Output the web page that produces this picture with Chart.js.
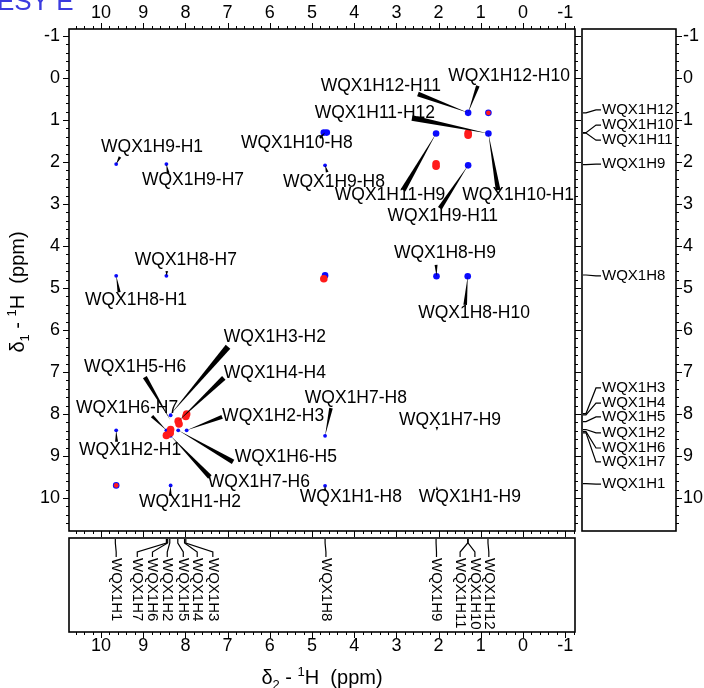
<!DOCTYPE html>
<html>
<head>
<meta charset="utf-8">
<script src="https://cdn.jsdelivr.net/npm/chart.js@4.4.0/dist/chart.umd.min.js"></script>
<style>
body { margin: 0; background: #fff; }
#wrap { width: 704px; height: 688px; position: relative; }
</style>
</head>
<body>
<div id="wrap"><canvas id="noesy"></canvas></div>
<script>
// tick labels (ppm) shared by both axes
var tickLabels = [-1, 0, 1, 2, 3, 4, 5, 6, 7, 8, 9, 10];

// resonance assignments, used by the 1D strips
var protons = ['WQX1H1', 'WQX1H2', 'WQX1H3', 'WQX1H4', 'WQX1H5', 'WQX1H6',
               'WQX1H7', 'WQX1H8', 'WQX1H9', 'WQX1H10', 'WQX1H11', 'WQX1H12'];
var shifts = [9.66, 8.37, 7.99, 8.02, 8.18, 8.42, 8.45, 4.69, 2.06, 1.30, 1.31, 0.83];
// where each strip label sits (ppm along the strip)
var stripLabelX = [9.64, 8.43, 7.35, 7.72, 8.05, 8.78, 9.14, 4.67, 2.05, 1.14, 1.49, 0.81];
var stripLabelY = [9.67, 8.45, 7.38, 7.74, 8.07, 8.81, 9.14, 4.71, 2.05, 1.12, 1.48, 0.76];

// cross peaks (delta2, delta1)
var blueX = [1.30, 0.82, 2.06, 1.30, 0.82, 4.72, 4.65, 1.30, 2.05, 1.31, 4.69, 9.64];
var blueY = [0.83, 0.83, 1.32, 1.32, 1.32, 1.30, 1.30, 2.08, 4.72, 4.72, 4.70, 9.70];
var weakX = [4.69, 9.64, 8.45, 9.64, 8.45, 9.64, 8.35, 8.45, 8.35, 8.45, 8.17, 7.97, 4.69, 4.69, 8.35, 8.35];
var weakY = [2.08, 2.05, 2.05, 4.71, 4.71, 8.39, 8.03, 8.39, 8.52, 8.52, 8.39, 8.39, 8.52, 9.71, 9.70, 8.39];
var redX = [1.30, 1.30, 2.06, 2.06, 4.72, 7.97, 7.99, 8.17, 8.15, 8.35, 8.36, 8.45];
var redY = [1.31, 1.36, 2.04, 2.10, 4.78, 8.00, 8.06, 8.17, 8.24, 8.37, 8.45, 8.51];
var redSmallX = [0.82, 9.64];
var redSmallY = [0.83, 9.70];

// peak labels: text centre, leader start, leader tip (all ppm)
var labelText = ['WQX1H12-H11', 'WQX1H12-H10', 'WQX1H11-H12', 'WQX1H10-H8', 'WQX1H9-H8',
  'WQX1H11-H9', 'WQX1H10-H12', 'WQX1H9-H11', 'WQX1H9-H1', 'WQX1H9-H7', 'WQX1H8-H7',
  'WQX1H8-H1', 'WQX1H8-H9', 'WQX1H8-H10', 'WQX1H3-H2', 'WQX1H4-H4', 'WQX1H2-H3',
  'WQX1H6-H5', 'WQX1H7-H6', 'WQX1H5-H6', 'WQX1H6-H7', 'WQX1H2-H1', 'WQX1H1-H2',
  'WQX1H7-H8', 'WQX1H7-H9', 'WQX1H1-H8', 'WQX1H1-H9'];
var labelX = [3.37, 0.33, 3.51, 5.36, 4.48, 3.15, 0.00, 1.90, 8.79, 7.82, 7.99, 9.17, 1.85, 1.16,
  5.88, 5.88, 5.92, 5.62, 6.26, 9.19, 9.38, 9.31, 7.89, 3.96, 1.73, 4.08, 1.26];
var labelY = [0.19, -0.05, 0.83, 1.55, 2.48, 2.79, 2.79, 3.29, 1.64, 2.43, 4.33, 5.29, 4.17, 5.60,
  6.17, 7.02, 8.05, 9.02, 9.62, 6.88, 7.86, 8.85, 10.10, 7.62, 8.14, 9.98, 9.98];
var leadX = [2.49, 1.07, 2.63, 4.81, 4.64, 2.84, 0.59, 1.97, 9.55, 8.41, 8.44, 9.57, 2.06, 1.37,
  6.99, 7.09, 7.13, 6.87, 7.42, 8.96, 8.79, 9.63, 8.36, 4.55, 2.04, 4.69, 2.04];
var leadY = [0.38, 0.19, 0.95, 1.43, 2.24, 2.67, 2.67, 3.10, 1.88, 2.26, 4.60, 5.10, 4.45, 5.40,
  6.40, 7.14, 8.07, 9.14, 9.50, 7.12, 8.05, 8.66, 9.95, 7.86, 8.31, 9.83, 9.81];
var tipX = [1.30, 1.30, 0.82, 4.69, 4.69, 2.06, 0.82, 1.30, 9.64, 8.45, 8.45, 9.64, 2.05, 1.31,
  8.36, 8.17, 7.97, 8.17, 8.35, 8.36, 8.45, 9.64, 8.35, 4.69, 2.04, 4.69, 2.04];
var tipY = [0.83, 0.83, 1.32, 1.30, 2.08, 1.32, 1.32, 2.08, 2.05, 2.05, 4.71, 4.71, 4.72, 4.72,
  8.02, 8.17, 8.39, 8.39, 8.52, 8.14, 8.39, 8.39, 9.70, 8.52, 8.40, 9.71, 9.72];

var FONT = "'Liberation Sans', Arial, Helvetica, sans-serif";
var BLUE = '#0a0aff';
var RED = '#ff1a1a';

function pts(xs, ys) {
  return xs.map(function(x, i) { return { x: x, y: ys[i] }; });
}

function tickList(min, max) {
  var out = [];
  for (var i = -10; i <= 60; i++) {
    var v = Math.round(i * 2) / 10;
    if (v >= min - 1e-6 && v <= max + 1e-6) out.push(v);
  }
  return out;
}

function isMajor(v) { return Math.abs(v - Math.round(v)) < 1e-6; }

function wedge(ctx, x0, y0, x1, y1) {
  var dx = x1 - x0, dy = y1 - y0, len = Math.hypot(dx, dy) || 1;
  var w = Math.min(6, 2.5 + len * 0.04);
  var nx = -dy / len * w / 2, ny = dx / len * w / 2;
  ctx.beginPath();
  ctx.moveTo(x0 + nx, y0 + ny);
  ctx.lineTo(x0 - nx, y0 - ny);
  ctx.lineTo(x1, y1);
  ctx.closePath();
  ctx.fill();
}

function richText(ctx, parts, cx, cy, angle) {
  ctx.save();
  ctx.translate(cx, cy);
  ctx.rotate(angle);
  var w = 0;
  parts.forEach(function(p) { ctx.font = p[1] + 'px ' + FONT; w += ctx.measureText(p[0]).width; });
  var x = -w / 2;
  ctx.textAlign = 'left';
  ctx.textBaseline = 'alphabetic';
  parts.forEach(function(p) {
    ctx.font = p[1] + 'px ' + FONT;
    ctx.fillText(p[0], x, 7 + p[2]);
    x += ctx.measureText(p[0]).width;
  });
  ctx.restore();
}

var peakLabels = {
  id: 'peakLabels',
  afterDatasetsDraw: function(chart) {
    var ctx = chart.ctx, a = chart.chartArea;
    var xs = chart.scales.x, ys = chart.scales.y;
    ctx.save();
    ctx.beginPath();
    ctx.rect(a.left, a.top, a.right - a.left, a.bottom - a.top);
    ctx.clip();
    ctx.fillStyle = '#000';
    for (var i = 0; i < labelText.length; i++) {
      wedge(ctx, xs.getPixelForValue(leadX[i]), ys.getPixelForValue(leadY[i]),
            xs.getPixelForValue(tipX[i]), ys.getPixelForValue(tipY[i]));
    }
    ctx.font = '17.5px ' + FONT;
    ctx.textAlign = 'center';
    ctx.textBaseline = 'middle';
    for (var j = 0; j < labelText.length; j++) {
      ctx.fillText(labelText[j], xs.getPixelForValue(labelX[j]), ys.getPixelForValue(labelY[j]));
    }
    ctx.restore();
  },
  afterDraw: function(chart) {
    var ctx = chart.ctx, a = chart.chartArea;
    var xs = chart.scales.x, ys = chart.scales.y;
    var sl = a.right + 7, sr = a.right + 101;     // right strip
    var st = a.bottom + 7, sb = a.bottom + 101;   // bottom strip
    ctx.save();
    ctx.strokeStyle = '#000';
    ctx.fillStyle = '#000';

    // frames
    ctx.lineWidth = 1.6;
    ctx.strokeRect(a.left, a.top, a.right - a.left, a.bottom - a.top);
    ctx.strokeRect(sl, a.top, sr - sl, a.bottom - a.top);
    ctx.strokeRect(a.left, st, a.right - a.left, sb - st);

    // ticks
    ctx.lineWidth = 1;
    ctx.beginPath();
    tickList(xs.min, xs.max).forEach(function(v) {
      var X = Math.round(xs.getPixelForValue(v)) + 0.5, len = isMajor(v) ? 6 : 3;
      ctx.moveTo(X, a.top); ctx.lineTo(X, a.top - len);
      ctx.moveTo(X, a.bottom); ctx.lineTo(X, a.bottom + len);
      ctx.moveTo(X, sb); ctx.lineTo(X, sb + len);
    });
    tickList(ys.min, ys.max).forEach(function(v) {
      var Y = Math.round(ys.getPixelForValue(v)) + 0.5, len = isMajor(v) ? 6 : 3;
      ctx.moveTo(a.left, Y); ctx.lineTo(a.left - len, Y);
      ctx.moveTo(a.right, Y); ctx.lineTo(a.right + len, Y);
      ctx.moveTo(sr, Y); ctx.lineTo(sr + len, Y);
    });
    ctx.stroke();

    // tick labels
    ctx.font = '18px ' + FONT;
    ctx.textBaseline = 'middle';
    tickLabels.forEach(function(v) {
      var X = xs.getPixelForValue(v), Y = ys.getPixelForValue(v);
      ctx.textAlign = 'center';
      ctx.fillText(String(v), X, a.top - 16);
      ctx.fillText(String(v), X, sb + 14);
      ctx.textAlign = 'right';
      ctx.fillText(String(v), a.left - 9, Y);
      ctx.textAlign = 'left';
      ctx.fillText(String(v), sr + 7, Y);
    });

    // 1D strips with assignment labels
    ctx.lineWidth = 1.2;
    ctx.font = '15px ' + FONT;
    for (var i = 0; i < protons.length; i++) {
      var yp = ys.getPixelForValue(shifts[i]), yl = ys.getPixelForValue(stripLabelY[i]);
      ctx.beginPath();
      ctx.moveTo(sl + 1, yp); ctx.lineTo(sl + 4, yp);
      ctx.lineTo(sl + 14, yl); ctx.lineTo(sl + 19, yl);
      ctx.stroke();
      ctx.textAlign = 'left';
      ctx.textBaseline = 'middle';
      ctx.fillText(protons[i], sl + 20, yl);

      var xp = xs.getPixelForValue(shifts[i]), xl = xs.getPixelForValue(stripLabelX[i]);
      ctx.beginPath();
      ctx.moveTo(xp, st + 1); ctx.lineTo(xp, st + 5);
      ctx.lineTo(xl, st + 14); ctx.lineTo(xl, st + 19);
      ctx.stroke();
      ctx.save();
      ctx.translate(xl, st + 20);
      ctx.rotate(Math.PI / 2);
      ctx.fillText(protons[i], 0, 0);
      ctx.restore();
    }

    // axis titles
    richText(ctx, [['\u03b4', 20, 0], ['2', 13, 5], [' - ', 20, 0], ['1', 13, -8], ['H  (ppm)', 20, 0]],
             (a.left + a.right) / 2, 677, 0);
    richText(ctx, [['\u03b4', 20, 0], ['1', 13, 5], [' - ', 20, 0], ['1', 13, -8], ['H  (ppm)', 20, 0]],
             17, 292, -Math.PI / 2);

    // clipped title at the top edge
    ctx.fillStyle = '#3b3bdf';
    ctx.font = '26px ' + FONT;
    ctx.textAlign = 'left';
    ctx.textBaseline = 'alphabetic';
    ctx.fillText('ESY E', -3, 10);
    ctx.restore();
  }
};

var ctx = document.getElementById('noesy').getContext('2d');
var noesyChart = new Chart(ctx, {
  type: 'scatter',
  data: {
    datasets: [
      { data: pts(redX, redY), backgroundColor: RED, pointRadius: 3.8, borderWidth: 0, order: 0 },
      { data: pts(redSmallX, redSmallY), backgroundColor: RED, pointRadius: 2.4, borderWidth: 0, order: 1 },
      { data: pts(blueX, blueY), backgroundColor: BLUE, pointRadius: 3.3, borderWidth: 0, order: 2 },
      { data: pts(weakX, weakY), backgroundColor: BLUE, pointRadius: 1.9, borderWidth: 0, order: 3 }
    ]
  },
  options: {
    responsive: true,
    maintainAspectRatio: false,
    devicePixelRatio: 1,
    animation: false,
    layout: { padding: { left: 69, top: 29, right: 129, bottom: 157 } },
    plugins: { legend: { display: false }, tooltip: { enabled: false } },
    elements: { point: { pointStyle: 'circle', hoverRadius: 0 } },
    scales: {
      x: { type: 'linear', reverse: true, min: -1.232, max: 10.758, display: false },
      y: { type: 'linear', reverse: true, min: -1.167, max: 10.786, display: false }
    }
  },
  plugins: [peakLabels]
});
</script>
</body>
</html>
